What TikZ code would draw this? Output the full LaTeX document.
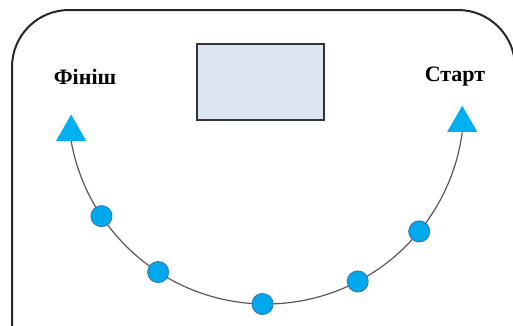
\documentclass[tikz,border=0pt]{standalone}
\usepackage{fontspec}
\setmainfont{Liberation Serif}
\usetikzlibrary{shapes.geometric,calc}
\definecolor{tri}{HTML}{00B0F0}
\definecolor{dotfill}{HTML}{00A8EC}
\definecolor{dotline}{HTML}{2F7FC0}
\definecolor{boxfill}{HTML}{DCE6F2}
\tikzset{
  frame/.style={line width=2pt, draw=black!85, rounded corners=57pt},
  track/.style={line width=1.2pt, draw=black!65},
  dot/.style={circle, minimum size=21pt, inner sep=0pt, fill=dotfill, draw=dotline, line width=1pt},
  flag/.style={regular polygon, regular polygon sides=3, minimum size=35pt, inner sep=0pt, fill=tri},
  board/.style={draw=black!80, line width=1.6pt, fill=boxfill},
  label/.style={font=\fontsize{22}{26}\selectfont\bfseries, anchor=base, inner sep=0pt}
}
\begin{document}
\begin{tikzpicture}[x=1pt,y=-1pt]
\useasboundingbox (0,0) rectangle (513,325);
\clip (0,0) rectangle (513,325);
\draw[frame] (12,360) -- (12,10) -- (515,10) -- (515,360);
\node[board, minimum width=127pt, minimum height=76pt, inner sep=0pt] (screen) at (260.5,82) {};
\coordinate (O) at (266,106);
\coordinate (endL) at ($(O)+(169.8:198)$);
\coordinate (endR) at ($(O)+(7.6:198)$);
\draw[track] (endL) arc[start angle=169.8, end angle=7.6, radius=198];
\node[flag, anchor=side 2] (finish) at (endL) {};
\node[flag, anchor=side 2] (start) at (endR) {};
\node[dot] (d1) at ($(O)+(146.2:198)$) {};
\node[dot] (d2) at ($(O)+(123:198)$) {};
\node[dot] (d3) at ($(O)+(91:198)$) {};
\node[dot] (d4) at ($(O)+(62.4:198)$) {};
\node[dot] (d5) at ($(O)+(39.3:198)$) {};
\node[label] (tfin) at (85,84) {Фініш};
\node[label] (tstart) at (455,81) {Старт};
\end{tikzpicture}
\end{document}
